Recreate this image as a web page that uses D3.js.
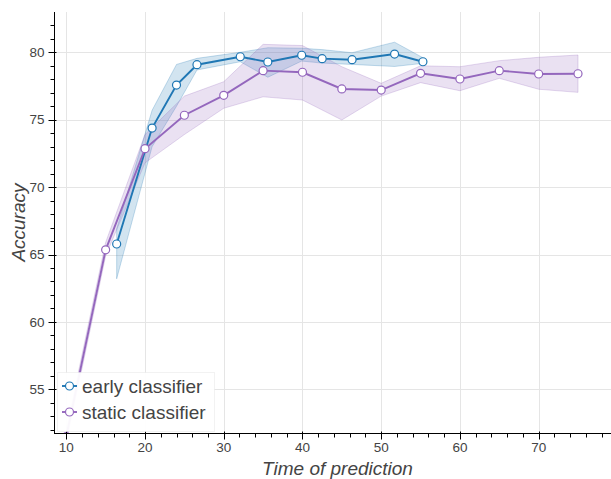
<!DOCTYPE html>
<html>
<head>
<meta charset="utf-8">
<script src="https://cdn.jsdelivr.net/npm/d3@7"></script>
<style>
  html, body { margin: 0; padding: 0; background: #fff; }
  svg { display: block; font-family: "Liberation Sans", Arial, Helvetica, sans-serif; }
</style>
</head>
<body>
<svg id="chart" width="611" height="479"></svg>
<script>
// ---- data ----
const earlyX     = [16.4, 20.9, 24.0, 26.6, 32.1, 35.6, 39.9, 42.5, 46.3, 51.7, 55.3];
const earlyMean  = [65.78, 74.38, 77.57, 79.08, 79.67, 79.28, 79.78, 79.53, 79.45, 79.87, 79.30];
const earlyLow   = [63.2, 73.0, 76.0, 78.69, 79.3, 78.15, 79.35, 79.2, 79.1, 78.95, 79.18];
const earlyHigh  = [66.9, 75.7, 79.1, 79.55, 80.0, 80.34, 80.3, 80.2, 79.97, 80.75, 79.6];

const staticX    = [10, 15, 20, 25, 30, 35, 40, 45, 50, 55, 60, 65, 70, 75];
const staticMean = [51.5, 65.35, 72.85, 75.33, 76.81, 78.64, 78.52, 77.28, 77.2, 78.44, 78.02, 78.64, 78.39, 78.41];
const staticLow  = [51.0, 64.9, 71.8, 73.9, 75.85, 76.7, 76.46, 74.98, 76.75, 77.75, 77.15, 78.07, 77.26, 77.03];
const staticHigh = [52.0, 65.9, 73.9, 76.75, 77.82, 80.59, 80.5, 78.93, 77.7, 79.0, 78.93, 79.38, 79.63, 79.8];

const xTicks = [10, 20, 30, 40, 50, 60, 70];
const yTicks = [55, 60, 65, 70, 75, 80];
const seriesNames = ["early classifier", "static classifier"];
const xLabel = "Time of prediction";
const yLabel = "Accuracy";

// ---- layout ----
const colors = ["#1f77b4", "#9467bd"];
const plot = { left: 54, right: 611, top: 12, bottom: 433 };
const svg = d3.select("#chart");

const x = d3.scaleLinear().domain([8.44, 79.19]).range([plot.left, plot.right]);
const y = d3.scaleLinear().domain([51.76, 82.99]).range([plot.bottom, plot.top]);

svg.append("defs").append("clipPath").attr("id", "clip")
  .append("rect").attr("x", plot.left).attr("y", plot.top)
  .attr("width", plot.right - plot.left).attr("height", plot.bottom - plot.top);

// grid
const grid = svg.append("g");
grid.selectAll("line.gx").data(xTicks).enter().append("line")
  .attr("x1", d => Math.round(x(d)) + 0.5).attr("x2", d => Math.round(x(d)) + 0.5)
  .attr("y1", plot.top).attr("y2", plot.bottom)
  .attr("stroke", "#e5e5e5").attr("stroke-width", 1);
grid.selectAll("line.gy").data(yTicks).enter().append("line")
  .attr("y1", d => Math.round(y(d)) + 0.5).attr("y2", d => Math.round(y(d)) + 0.5)
  .attr("x1", plot.left).attr("x2", plot.right)
  .attr("stroke", "#e5e5e5").attr("stroke-width", 1);

const series = [
  { xs: earlyX, m: earlyMean, lo: earlyLow, hi: earlyHigh },
  { xs: staticX, m: staticMean, lo: staticLow, hi: staticHigh }
];

const body = svg.append("g").attr("clip-path", "url(#clip)");

// bands
series.forEach((s, i) => {
  const pts = s.xs.map((d, k) => ({ x: d, lo: s.lo[k], hi: s.hi[k] }));
  const area = d3.area().x(d => x(d.x)).y0(d => y(d.lo)).y1(d => y(d.hi));
  body.append("path").datum(pts).attr("d", area)
    .attr("fill", colors[i]).attr("fill-opacity", 0.2)
    .attr("stroke", colors[i]).attr("stroke-opacity", 0.25).attr("stroke-width", 1);
});

// lines + markers
series.forEach((s, i) => {
  const pts = s.xs.map((d, k) => ({ x: d, y: s.m[k] }));
  const line = d3.line().x(d => x(d.x)).y(d => y(d.y));
  body.append("path").datum(pts).attr("d", line)
    .attr("fill", "none").attr("stroke", colors[i]).attr("stroke-width", 1.9);
  body.selectAll("circle.s" + i).data(pts).enter().append("circle")
    .attr("cx", d => x(d.x)).attr("cy", d => y(d.y)).attr("r", 4)
    .attr("fill", "#fff").attr("stroke", colors[i]).attr("stroke-width", 1.2);
});

// axes
const xMinor = d3.range(10, 79, 2).filter(d => xTicks.indexOf(d) < 0);
const yMinor = d3.range(52, 83, 1).filter(d => yTicks.indexOf(d) < 0);

const xAxis = svg.append("g").attr("transform", `translate(0,${plot.bottom + 0.5})`);
xAxis.append("line").attr("x1", plot.left).attr("x2", plot.right).attr("stroke", "#000").attr("stroke-width", 1);
xAxis.selectAll("line.mj").data(xTicks).enter().append("line")
  .attr("x1", d => Math.round(x(d)) + 0.5).attr("x2", d => Math.round(x(d)) + 0.5)
  .attr("y1", -2).attr("y2", 6).attr("stroke", "#000");
xAxis.selectAll("line.mn").data(xMinor).enter().append("line")
  .attr("x1", d => Math.round(x(d)) + 0.5).attr("x2", d => Math.round(x(d)) + 0.5)
  .attr("y1", 0).attr("y2", 4).attr("stroke", "#000");
xAxis.selectAll("text").data(xTicks).enter().append("text")
  .attr("x", d => x(d)).attr("y", 18.5).attr("text-anchor", "middle")
  .attr("font-size", 13.5).attr("fill", "#444").text(d => d);

const yAxis = svg.append("g").attr("transform", `translate(${plot.left + 0.5},0)`);
yAxis.append("line").attr("y1", plot.top).attr("y2", plot.bottom).attr("stroke", "#000").attr("stroke-width", 1);
yAxis.selectAll("line.mj").data(yTicks).enter().append("line")
  .attr("y1", d => Math.round(y(d)) + 0.5).attr("y2", d => Math.round(y(d)) + 0.5)
  .attr("x1", -6).attr("x2", 2).attr("stroke", "#000");
yAxis.selectAll("line.mn").data(yMinor).enter().append("line")
  .attr("y1", d => Math.round(y(d)) + 0.5).attr("y2", d => Math.round(y(d)) + 0.5)
  .attr("x1", -4).attr("x2", 0).attr("stroke", "#000");
yAxis.selectAll("text").data(yTicks).enter().append("text")
  .attr("x", -10).attr("y", d => y(d)).attr("dy", "0.35em").attr("text-anchor", "end")
  .attr("font-size", 13.5).attr("fill", "#444").text(d => d);

// axis labels
svg.append("text").attr("x", 337.5).attr("y", 474.5)
  .attr("text-anchor", "middle").attr("font-size", 19).attr("font-style", "italic")
  .attr("fill", "#444").text(xLabel);
svg.append("text").attr("transform", `translate(25,${(plot.top + plot.bottom) / 2}) rotate(-90)`)
  .attr("text-anchor", "middle").attr("font-size", 19).attr("font-style", "italic")
  .attr("fill", "#444").text(yLabel);

// legend
const lg = svg.append("g");
lg.append("rect").attr("x", 57.5).attr("y", 372.5).attr("width", 157).attr("height", 59)
  .attr("fill", "#fff").attr("fill-opacity", 0.95)
  .attr("stroke", "#e5e5e5").attr("stroke-opacity", 0.5);
seriesNames.forEach((name, i) => {
  const cy = 386 + i * 26;
  lg.append("line").attr("x1", 62).attr("x2", 77).attr("y1", cy).attr("y2", cy)
    .attr("stroke", colors[i]).attr("stroke-width", 1.9);
  lg.append("circle").attr("cx", 69.5).attr("cy", cy).attr("r", 4)
    .attr("fill", "#fff").attr("stroke", colors[i]).attr("stroke-width", 1.2);
  lg.append("text").attr("x", 82).attr("y", cy).attr("dy", "0.35em")
    .attr("font-size", 19).attr("fill", "#444").text(name);
});
</script>
</body>
</html>
